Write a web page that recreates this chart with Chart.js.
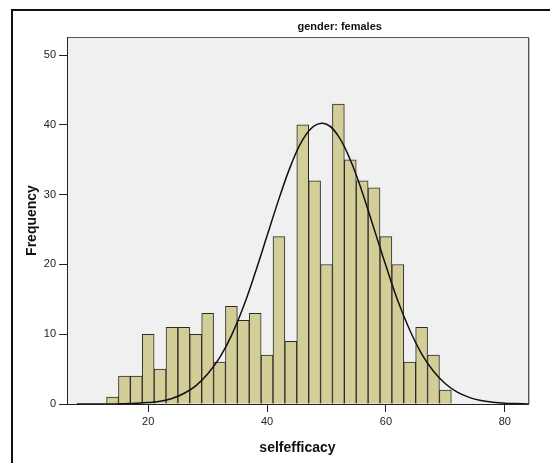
<!DOCTYPE html>
<html lang="en">

<head>
  <meta charset="UTF-8" />
  <title>selfefficacy histogram</title>
  <script src="https://cdn.jsdelivr.net/npm/chart.js"></script>
  <style>
    body { margin: 0; background: #fff; }
    canvas { display: block; }
  </style>
</head>

<body>
  <canvas id="histChart" width="550" height="463"></canvas>

  <script>
    // histogram bins (width 2) and their frequencies
    const binCenters = [14, 16, 18, 20, 22, 24, 26, 28, 30, 32, 34, 36, 38, 40, 42,
      44, 46, 48, 50, 52, 54, 56, 58, 60, 62, 64, 66, 68, 70];
    const counts = [1, 4, 4, 10, 5, 11, 11, 10, 13, 6, 14, 12, 13, 7, 24,
      9, 40, 32, 20, 43, 35, 32, 31, 24, 20, 6, 11, 7, 2];

    // normal curve overlay
    const curveX = [8, 10, 12, 14, 16, 18, 20, 22, 24, 26, 28, 30, 32, 34, 36, 38, 40, 42, 44, 46,
      48, 50, 52, 54, 56, 58, 60, 62, 64, 66, 68, 70, 72, 74, 76, 78, 80, 82, 84];
    const curveY = [0, 0, 0, 0, 0.05, 0.1, 0.2, 0.4, 0.8, 1.5, 2.6, 4.3, 6.6, 9.8, 13.9, 18.8, 24.1, 29.4, 34.2, 37.9,
      39.9, 40.1, 38.4, 35.0, 30.4, 25.1, 19.8, 14.8, 10.6, 7.2, 4.7, 2.9, 1.7, 0.95, 0.5, 0.26, 0.12, 0.06, 0];

    const xTicks = [20, 40, 60, 80];
    const yTicks = [0, 10, 20, 30, 40, 50];

    const family = '"Liberation Sans", Arial, sans-serif';

    // outer frame, grey plot panel and panel heading
    const panel = {
      id: 'panel',
      beforeDraw(chart) {
        const { ctx, chartArea: a } = chart;
        ctx.save();
        ctx.fillStyle = '#fff';
        ctx.fillRect(0, 0, chart.width, chart.height);
        ctx.fillStyle = '#111';
        ctx.fillRect(11, 9, chart.width - 11, 2);
        ctx.fillRect(11, 9, 2, chart.height - 9);
        ctx.fillStyle = '#f0f0f0';
        ctx.fillRect(a.left, a.top, a.right - a.left, a.bottom - a.top);
        ctx.strokeStyle = '#555';
        ctx.lineWidth = 1;
        ctx.strokeRect(a.left + 0.5, a.top + 0.5, a.right - a.left, a.bottom - a.top);
        ctx.strokeStyle = '#bbb';
        ctx.beginPath();
        ctx.moveTo(a.right + 1.5, a.top + 1);
        ctx.lineTo(a.right + 1.5, a.bottom);
        ctx.stroke();
        ctx.font = 'bold 11px ' + family;
        ctx.fillStyle = '#111';
        ctx.textAlign = 'left';
        ctx.textBaseline = 'middle';
        ctx.fillText('gender: females', (a.left + a.right) / 2, 27);
        ctx.restore();
      }
    };

    new Chart(document.getElementById('histChart'), {
      type: 'bar',
      data: {
        datasets: [
          {
            type: 'line',
            data: curveX.map((x, i) => ({ x, y: curveY[i] })),
            borderColor: '#111',
            borderWidth: 1.5,
            pointRadius: 0,
            fill: false,
            tension: 0.4,
            order: 0
          },
          {
            data: binCenters.map((x, i) => ({ x, y: counts[i] })),
            backgroundColor: '#d3ce97',
            borderColor: '#2a2a2a',
            borderWidth: 1,
            barPercentage: 1,
            categoryPercentage: 1,
            order: 1
          }
        ]
      },
      options: {
        responsive: false,
        animation: false,
        layout: { padding: { top: 37, right: 22, left: 0, bottom: 0 } },
        plugins: {
          legend: { display: false },
          tooltip: { enabled: false }
        },
        scales: {
          x: {
            type: 'linear',
            min: 6.34,
            max: 83.9,
            offset: false,
            afterBuildTicks: s => { s.ticks = xTicks.map(v => ({ value: v })); },
            afterFit: s => { s.height = 59; },
            grid: { offset: false, drawOnChartArea: false, drawTicks: true, tickLength: 8, color: '#222' },
            border: { color: '#222' },
            ticks: { font: { family, size: 11 }, color: '#222', padding: 3, maxRotation: 0 },
            title: {
              display: true,
              text: 'selfefficacy',
              color: '#111',
              font: { family, size: 14, weight: 'bold' },
              padding: { top: 0, bottom: 6 }
            }
          },
          y: {
            min: 0,
            max: 52.6,
            afterBuildTicks: s => { s.ticks = yTicks.map(v => ({ value: v })); },
            afterFit: s => { s.width = 67; },
            grid: { drawOnChartArea: false, drawTicks: true, tickLength: 8, color: '#222' },
            border: { color: '#222' },
            ticks: { font: { family, size: 11 }, color: '#222', padding: 3 },
            title: {
              display: true,
              text: 'Frequency',
              color: '#111',
              font: { family, size: 14, weight: 'bold' },
              padding: { top: 24, bottom: 0 }
            }
          }
        }
      },
      plugins: [panel]
    });
  </script>
</body>

</html>
